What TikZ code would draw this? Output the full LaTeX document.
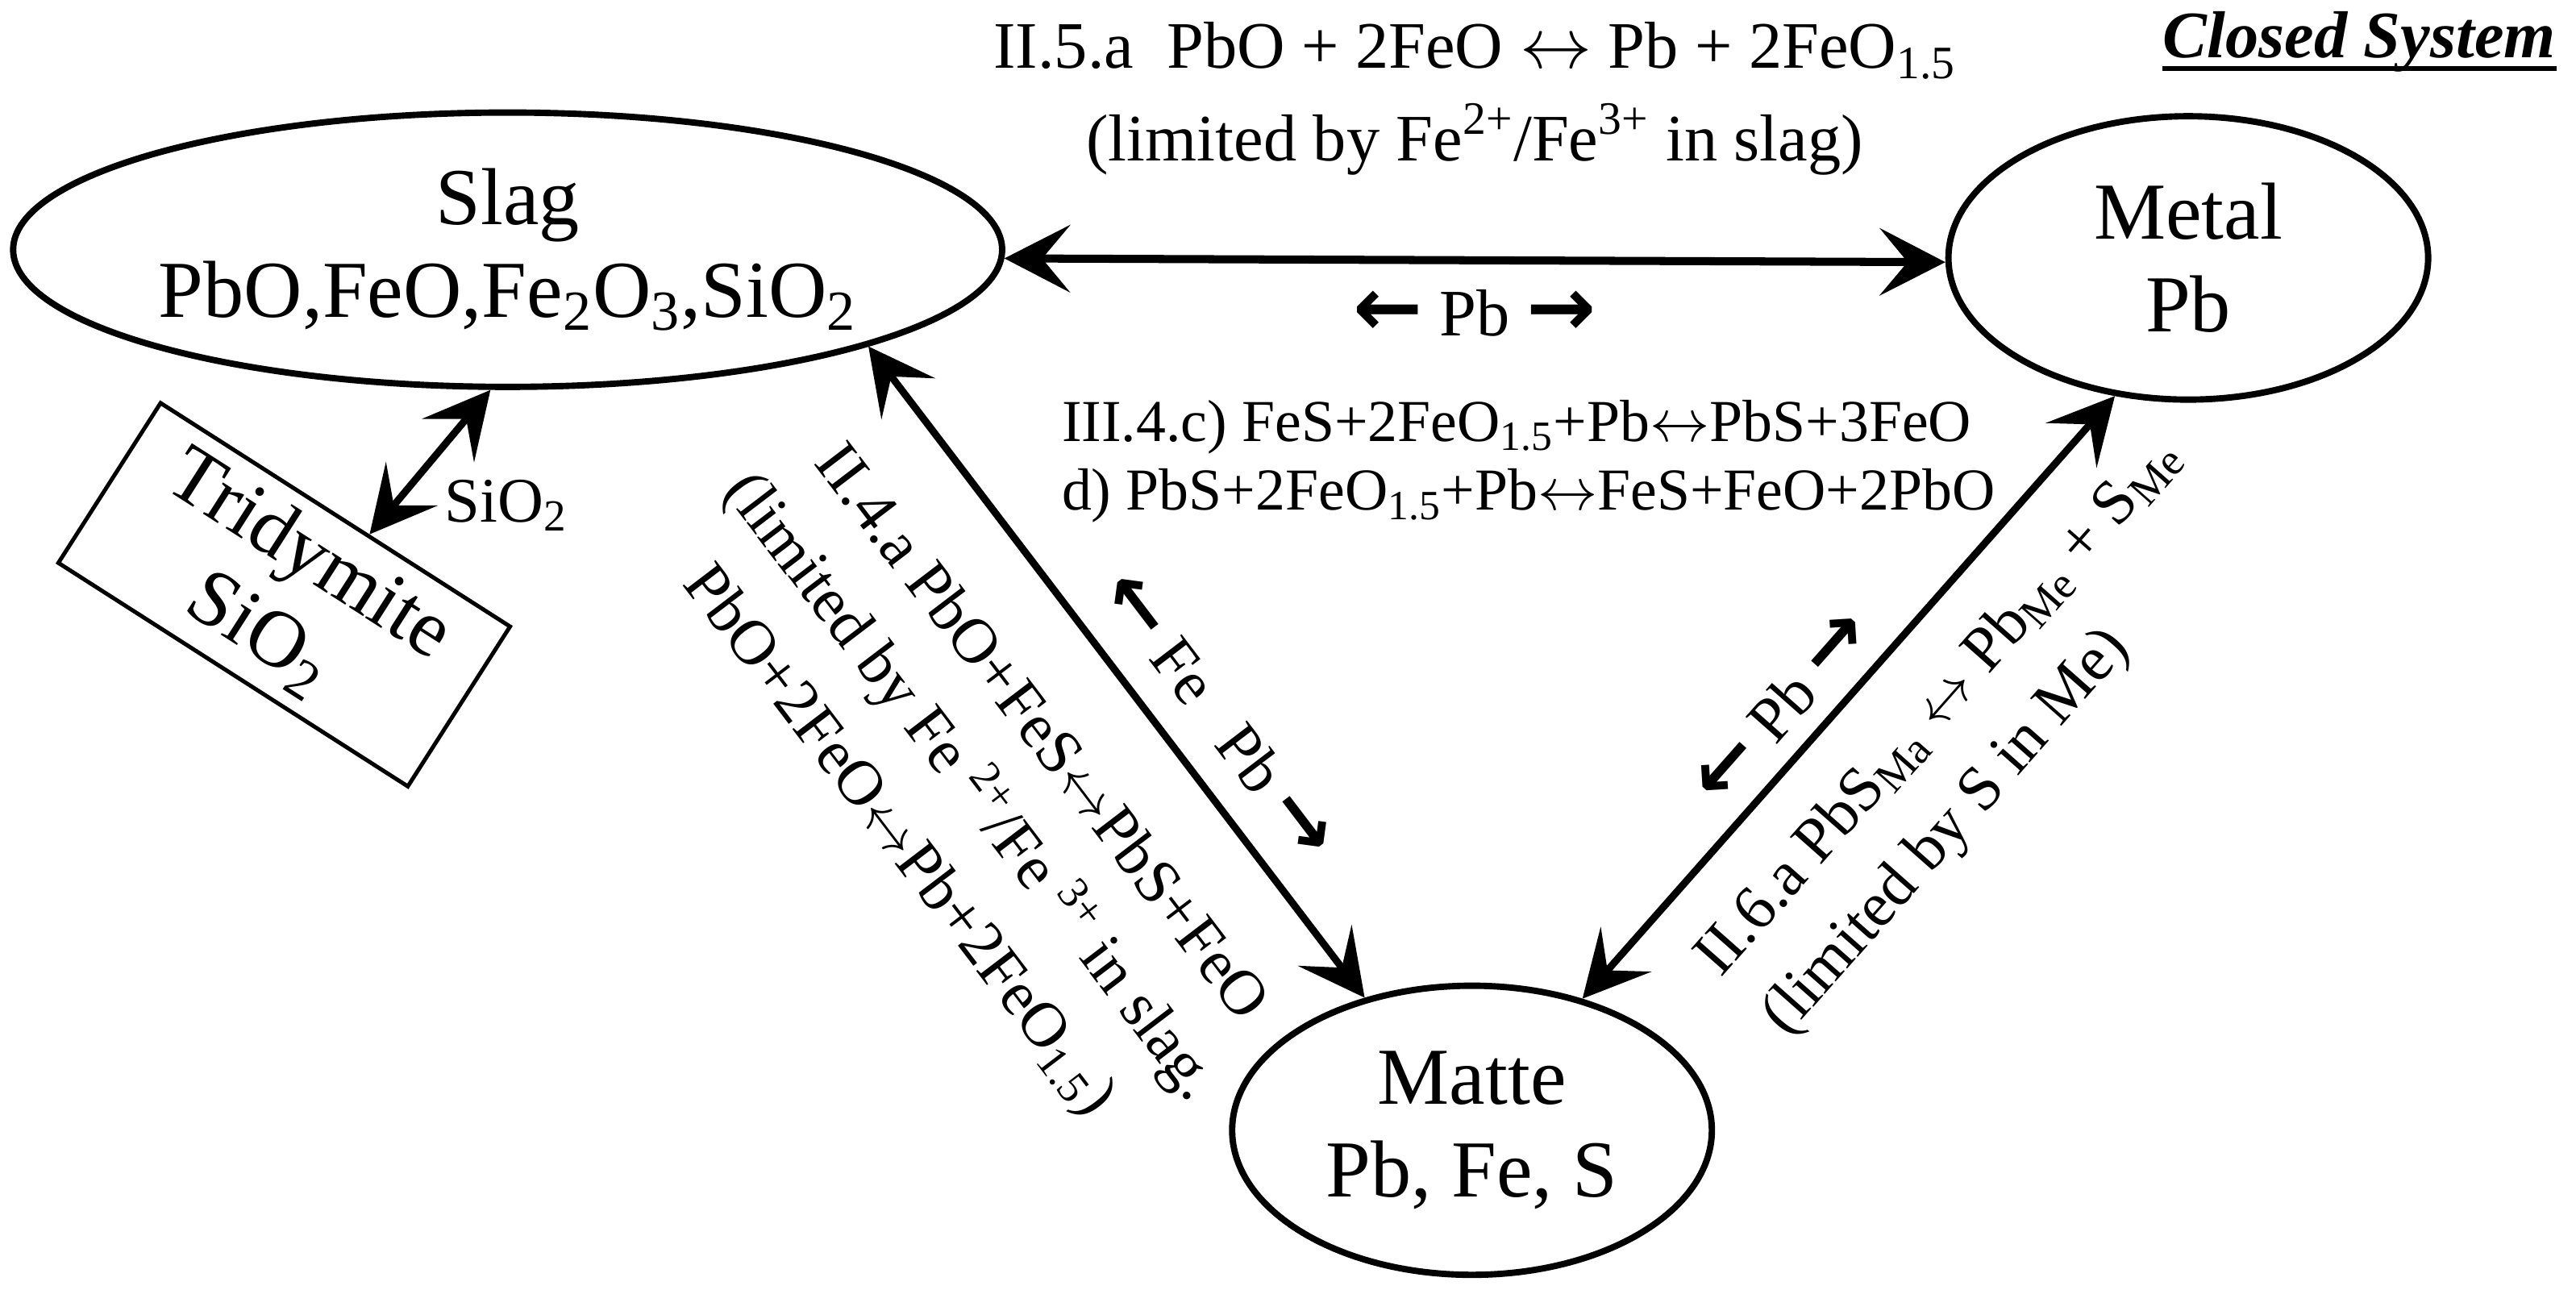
\documentclass[tikz,border=0pt]{standalone}
\usepackage{fontspec}
\setmainfont{Liberation Serif}
\newfontfamily\arrowfont{DejaVu Sans}[Scale=1.25]
\usepackage{tikz}
\usetikzlibrary{shapes.geometric, arrows.meta, positioning, calc}

\newcommand{\phasefont}{\fontsize{28pt}{32pt}\selectfont}
\newcommand{\eqfont}{\fontsize{22pt}{30.7pt}\selectfont}
\newcommand{\lar}{{\arrowfont\bfseries ←}}
\newcommand{\rar}{{\arrowfont\bfseries →}}
\newcommand{\eqv}{\ensuremath{\leftrightarrow}}

\begin{document}
\begin{tikzpicture}[x=0.2mm, y=-0.2mm,
  phase/.style={draw, ellipse, line width=2.2pt, inner sep=0pt, align=center, font=\phasefont},
  biarrow/.style={line width=2.5pt, >={Stealth[length=8mm, width=8.2mm, inset=3.4mm]}, <->},
  lbl/.style={inner sep=0pt, font=\eqfont}]
  \useasboundingbox (0,0) rectangle (1568,785);

  % Phases
  \node[phase, minimum width=120.4mm, minimum height=33.4mm] (slag) at (309,152) {Slag\\PbO,FeO,Fe\textsubscript{2}O\textsubscript{3},SiO\textsubscript{2}};
  \node[phase, minimum width=58.4mm, minimum height=34.5mm] (metal) at (1332,157) {Metal\\Pb};
  \node[phase, minimum width=58.4mm, minimum height=35.2mm] (matte) at (896,688) {Matte\\Pb, Fe, S};
  \node[draw, line width=1.4pt, rotate=-32.6, minimum width=50.5mm, minimum height=23.1mm, align=center, font=\phasefont, inner sep=0pt] (trid) at (173,362) {Tridymite\\SiO\textsubscript{2}};

  % Title
  \node[lbl, font=\fontsize{23pt}{27pt}\selectfont\bfseries\itshape, anchor=base east] (closed) at (1556,35) {Closed System};
  \draw[line width=1.7pt] ([yshift=-1.3mm]closed.base west) -- ([yshift=-1.3mm]closed.base east);

  % Slag -- Metal
  \draw[biarrow, line width=2.8pt] (slag.-1.4) -- node[lbl, above=9.9mm, font=\fontsize{23pt}{32pt}\selectfont, align=center] (eqfive) {II.5.a\ \ PbO + 2FeO \eqv{} Pb + 2FeO\textsubscript{1.5}\\(limited by Fe\textsuperscript{2+}/Fe\textsuperscript{3+} in slag)} node[lbl, below=3.1mm, font=\fontsize{23pt}{27pt}\selectfont] (pbtop) {\lar\ Pb \rar} (metal.181);

  % Slag -- Matte
  \draw[biarrow] (slag.-15.3) -- node[lbl, sloped, pos=0.503, below=8.2mm, align=center] (eqfour) {II.4.a PbO+FeS\eqv{}PbS+FeO\\(limited by Fe \textsuperscript{2+}/Fe \textsuperscript{3+} in slag.\\PbO+2FeO\eqv{}Pb+2FeO\textsubscript{1.5})} node[lbl, sloped, pos=0.617, above=3.5mm] (feflow) {\lar\ Fe\hspace{0.7em}Pb \rar} (matte.129.5);

  % Matte -- Metal
  \draw[biarrow] (matte.50) -- node[lbl, sloped, pos=0.436, above=2.2mm] (pbside) {\lar\ Pb \rar} node[lbl, sloped, pos=0.128, anchor=north west, yshift=-5.2mm, align=left] (eqsix) {II.6.a PbS\textsubscript{Ma} \eqv{} Pb\textsubscript{Me} + S\textsubscript{Me}\\(limited by S in Me)} (metal.-118);

  % Matte reactions
  \node[lbl, font=\fontsize{20.6pt}{24pt}\selectfont, anchor=north west, align=left] (eqthree) at (646,243) {III.4.c) FeS+2FeO\textsubscript{1.5}+Pb\eqv{}PbS+3FeO\\d) PbS+2FeO\textsubscript{1.5}+Pb\eqv{}FeS+FeO+2PbO};

  % Tridymite -- Slag
  \coordinate (tridtop) at ($(trid.north west)!0.594!(trid.north east)$);
  \draw[biarrow] (tridtop) -- node[lbl, pos=0.2, right=5.8mm] (siflow) {SiO\textsubscript{2}} (slag.-97.5);
\end{tikzpicture}
\end{document}
